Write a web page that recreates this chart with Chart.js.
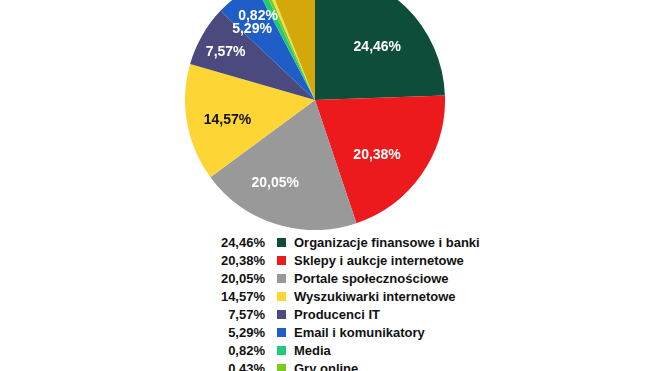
<!DOCTYPE html>
<html>
<head>
<meta charset="utf-8">
<script src="https://cdn.jsdelivr.net/npm/chart.js@4"></script>
<style>
  html, body { margin: 0; padding: 0; background: #fff; width: 660px; height: 371px; overflow: hidden; }
  #pieBox { position: absolute; left: 185px; top: -30px; width: 260px; height: 260px; }
  #legend { position: absolute; left: 200px; top: 234px; font: bold 13px "Liberation Sans", Arial, sans-serif; color: #111; }
  .row { display: flex; align-items: center; height: 17.9px; }
  .pct { width: 65px; text-align: right; }
  .box { width: 9px; height: 9px; margin-left: 12px; margin-right: 8px; }
</style>
</head>
<body>
<div id="pieBox"><canvas id="chartPie" width="260" height="260"></canvas></div>
<div id="legend"></div>
<script>
// data (last two entries are cut off at the bottom)
const categories = [
  'Organizacje finansowe i banki',
  'Sklepy i aukcje internetowe',
  'Portale społecznościowe',
  'Wyszukiwarki internetowe',
  'Producenci IT',
  'Email i komunikatory',
  'Media',
  'Gry online',
  'Pozostałe serwisy',
  'Inne'
];
const shares = [24.46, 20.38, 20.05, 14.57, 7.57, 5.29, 0.82, 0.43, 0.38, 6.05];
const sliceColors = ['#0f4d3b', '#ec1a1c', '#999999', '#fdd535', '#4a4a7e', '#1f5ec6', '#23c97b', '#7ccb1c', '#e9e34a', '#d4a80b'];

// how many labels are shown on the pie / in the legend
const shownOnPie = 7;
const shownInLegend = 8;

const fmt = v => v.toFixed(2).replace('.', ',') + '%';

// label placement inside slices: fraction of radius, turn in degrees, colour
const labelRadius = [0.63, 0.64, 0.71, 0.69, 0.78, 0.73, 0.78];
const labelTurn = [5.5, 7, 8, -2.6, -1.4, -4.4, -8];
const labelColor = ['#fff', '#fff', '#fff', '#111', '#fff', '#fff', '#fff'];

const pieLabels = {
  id: 'pieLabels',
  afterDatasetsDraw(chart) {
    const ctx = chart.ctx;
    const meta = chart.getDatasetMeta(0);
    ctx.save();
    ctx.font = 'bold 14px "Liberation Sans", Arial, sans-serif';
    ctx.textAlign = 'center';
    ctx.textBaseline = 'middle';
    meta.data.forEach((arc, i) => {
      if (i >= shownOnPie) return;
      const mid = (arc.startAngle + arc.endAngle) / 2 + labelTurn[i] * Math.PI / 180;
      const r = arc.outerRadius * labelRadius[i];
      ctx.fillStyle = labelColor[i];
      ctx.fillText(fmt(shares[i]), arc.x + Math.cos(mid) * r, arc.y + Math.sin(mid) * r);
    });
    ctx.restore();
  }
};

const canvasPie = document.getElementById('chartPie');
const configPie = {
  type: 'pie',
  data: {
    labels: categories,
    datasets: [
      {
        data: shares,
        backgroundColor: sliceColors,
        borderWidth: 0,
      },
    ],
  },
  options: {
    responsive: false,
    animation: false,
    layout: { padding: 0 },
    plugins: {
      legend: { display: false },
      tooltip: { enabled: false },
    },
  },
  plugins: [pieLabels],
};

const chartPie = new Chart(canvasPie, configPie);

// legend as html rows
const legend = document.getElementById('legend');
categories.slice(0, shownInLegend).forEach((name, i) => {
  const row = document.createElement('div');
  row.className = 'row';
  row.innerHTML = '<span class="pct">' + fmt(shares[i]) + '</span>' +
    '<span class="box" style="background:' + sliceColors[i] + '"></span>' +
    '<span>' + name + '</span>';
  legend.appendChild(row);
});
</script>
</body>
</html>
